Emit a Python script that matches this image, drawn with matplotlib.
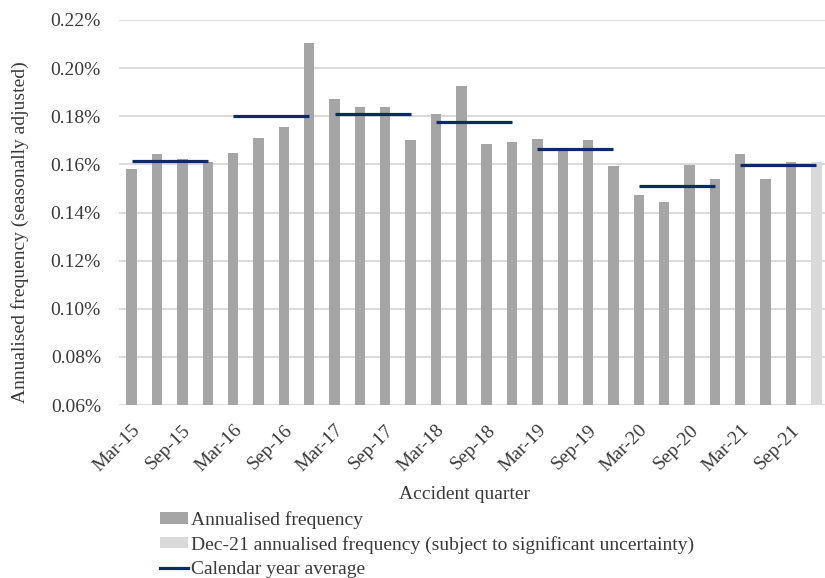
import matplotlib
matplotlib.use("Agg")
import matplotlib.pyplot as plt
from matplotlib.patches import Patch
from matplotlib.lines import Line2D
from matplotlib.ticker import FuncFormatter, MultipleLocator

plt.rcParams['font.family'] = ['Liberation Serif', 'DejaVu Serif']

quarters = ["Mar-15", "Jun-15", "Sep-15", "Dec-15",
            "Mar-16", "Jun-16", "Sep-16", "Dec-16",
            "Mar-17", "Jun-17", "Sep-17", "Dec-17",
            "Mar-18", "Jun-18", "Sep-18", "Dec-18",
            "Mar-19", "Jun-19", "Sep-19", "Dec-19",
            "Mar-20", "Jun-20", "Sep-20", "Dec-20",
            "Mar-21", "Jun-21", "Sep-21", "Dec-21"]

# annualised claim frequency, % (seasonally adjusted)
frequency = [0.1579, 0.1644, 0.1621, 0.1610,
             0.1647, 0.1708, 0.1757, 0.2104,
             0.1870, 0.1838, 0.1837, 0.1701,
             0.1809, 0.1927, 0.1683, 0.1693,
             0.1704, 0.1663, 0.1700, 0.1594,
             0.1473, 0.1442, 0.1596, 0.1539,
             0.1642, 0.1538, 0.1609, 0.1609]

years = [2015, 2016, 2017, 2018, 2019, 2020, 2021]
year_average = [0.1613, 0.1802, 0.1809, 0.1777, 0.1665, 0.1511, 0.1599]

tick_labels = quarters[::2]

bar_color = "#a5a5a5"
latest_color = "#d9d9d9"
avg_color = "#0b2a66"
text_color = "#3a3a3a"
fs = 14

fig = plt.figure(figsize=(8.25, 5.78), dpi=100)
ax = fig.add_axes([0.1442, 0.2993, 0.8558, 0.6661])

x = list(range(len(quarters)))
colors = [bar_color] * (len(quarters) - 1) + [latest_color]
ax.bar(x, frequency, width=0.41, color=colors, zorder=2)

for i, avg in enumerate(year_average):
    ax.plot([4 * i, 4 * i + 3], [avg, avg], color=avg_color, lw=2.3,
            solid_capstyle='butt', zorder=3)

ax.set_ylim(0.06, 0.22)
ax.set_xlim(-0.5, 27.34)
ax.yaxis.set_major_locator(MultipleLocator(0.02))
ax.yaxis.set_major_formatter(FuncFormatter(lambda v, p: f"{v:.2f}%"))
ax.grid(axis='y', color="#d9d9d9", lw=1.3, zorder=0)
ax.set_axisbelow(True)
for s in ax.spines.values():
    s.set_visible(False)
ax.tick_params(length=0, labelsize=fs, colors=text_color)
ax.tick_params(axis='y', pad=13)

ax.set_xticks(x[::2])
ax.set_xticklabels(tick_labels, rotation=45, ha='right', rotation_mode='anchor',
                   fontsize=fs)
ax.tick_params(axis='x', pad=12)

ax.set_ylabel("Annualised frequency (seasonally adjusted)", fontsize=fs,
              color=text_color)
ax.yaxis.set_label_coords(-0.128, 0.45)
ax.set_xlabel("Accident quarter", fontsize=fs, color=text_color)
ax.xaxis.set_label_coords(0.49, -0.21)

handles = [Patch(facecolor=bar_color, edgecolor='none'),
           Patch(facecolor=latest_color, edgecolor='none'),
           Line2D([0], [0], color=avg_color, lw=2.3)]
labels = ["Annualised frequency",
          "Dec-21 annualised frequency (subject to significant uncertainty)",
          "Calendar year average"]
leg = fig.legend(handles, labels, loc='upper left',
                 bbox_to_anchor=(160 / 825, 1 - 511 / 578),
                 frameon=False, fontsize=fs, handlelength=1.45,
                 handleheight=0.5, handletextpad=0.15, labelspacing=0.36,
                 borderpad=0, borderaxespad=0)
for t in leg.get_texts():
    t.set_color(text_color)

fig.savefig("out.png", dpi=100)
